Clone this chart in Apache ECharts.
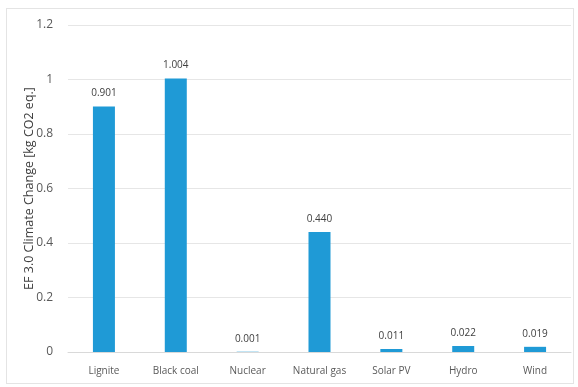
<!DOCTYPE html>
<html>
<head>
<meta charset="utf-8">
<script src="https://cdn.jsdelivr.net/npm/echarts@6/dist/echarts.min.js"></script>
<style>
    html, body { margin: 0; padding: 0; background: #fff; }
    #frame { position: absolute; left: 6px; top: 8px; width: 568px; height: 376px; border: 1px solid #e4e4e4; box-sizing: border-box; }
    #chart { position: absolute; left: 0; top: 0; width: 578px; height: 387px; }
</style>
</head>
<body>
<div id="frame"></div>
<div id="chart"></div>
<script>
// datos
const categories = ['Lignite', 'Black coal', 'Nuclear', 'Natural gas', 'Solar PV', 'Hydro', 'Wind'];
const values = [0.901, 1.004, 0.001, 0.440, 0.011, 0.022, 0.019];
const valueLabels = ['0.901', '1.004', '0.001', '0.440', '0.011', '0.022', '0.019'];

const chart = echarts.init(document.getElementById('chart'));

const option = {
    animation: false,
    textStyle: { fontFamily: 'Open Sans, sans-serif' },
    grid: {
        left: 68,
        right: 7,
        top: 25,
        bottom: 35
    },
    xAxis: {
        type: 'category',
        data: categories,
        axisLine: { lineStyle: { color: '#d9d9d9' } },
        axisTick: { show: false },
        axisLabel: { color: '#595959', fontSize: 10, margin: 14 }
    },
    yAxis: {
        type: 'value',
        min: 0,
        max: 1.2,
        interval: 0.2,
        name: 'EF 3.0 Climate Change [kg CO2 eq.]',
        nameLocation: 'middle',
        nameGap: 32,
        nameMoveOverlap: false,
        nameTextStyle: { color: '#404040', fontSize: 12.5 },
        axisLine: { show: false },
        axisTick: { show: false },
        axisLabel: {
            color: '#595959',
            fontSize: 12,
            margin: 15,
            formatter: (v) => String(Math.round(v * 10) / 10)
        },
        splitLine: { lineStyle: { color: '#e6e6e6' } }
    },
    series: [{
        type: 'bar',
        data: values,
        barWidth: 22,
        itemStyle: { color: '#1f9ad6' },
        label: {
            show: true,
            position: 'top',
            distance: 8,
            color: '#404040',
            fontSize: 10,
            formatter: (p) => valueLabels[p.dataIndex]
        }
    }]
};

chart.setOption(option);
</script>
</body>
</html>
